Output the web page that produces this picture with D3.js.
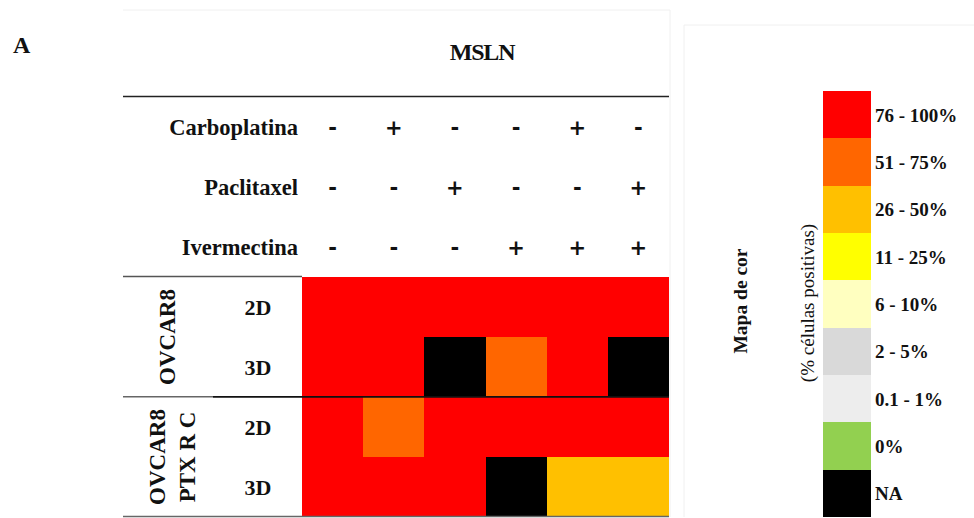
<!DOCTYPE html>
<html>
<head>
<meta charset="utf-8">
<script src="https://cdn.jsdelivr.net/npm/d3@7"></script>
<style>
  html, body { margin: 0; padding: 0; background: #fff; }
  svg { display: block; }
  text { font-family: "Liberation Serif", "Times New Roman", serif; font-weight: bold; fill: #111; }
</style>
</head>
<body>
<svg id="chart" width="974" height="518"></svg>
<script>
// Treatment combinations per column
const columns = ["c1", "c2", "c3", "c4", "c5", "c6"];
const treatments = ["Carboplatina", "Paclitaxel", "Ivermectina"];
const carboplatina = ["-", "+", "-", "-", "+", "-"];
const paclitaxel   = ["-", "-", "+", "-", "-", "+"];
const ivermectina  = ["-", "-", "-", "+", "+", "+"];

// Cell lines and culture formats
const cellLines = [["OVCAR8"], ["OVCAR8", "PTX R C"]];
const cultures = ["2D", "3D"];

// Colour map categories (% positive cells)
const legendLabels = ["76 - 100%", "51 - 75%", "26 - 50%", "11 - 25%", "6 - 10%", "2 - 5%", "0.1 - 1%", "0%", "NA"];
const legendColors = ["#ff0000", "#ff6600", "#ffc000", "#ffff00", "#ffffc0", "#d9d9d9", "#ededed", "#92d050", "#000000"];

// MSLN expression category per row (cell line × culture) and column
const ovcar8_2D    = ["76 - 100%", "76 - 100%", "76 - 100%", "76 - 100%", "76 - 100%", "76 - 100%"];
const ovcar8_3D    = ["76 - 100%", "76 - 100%", "NA", "51 - 75%", "76 - 100%", "NA"];
const ptxrc_2D     = ["76 - 100%", "51 - 75%", "76 - 100%", "76 - 100%", "76 - 100%", "76 - 100%"];
const ptxrc_3D     = ["76 - 100%", "76 - 100%", "76 - 100%", "NA", "26 - 50%", "26 - 50%"];

const rowKeys = ["OVCAR8|2D", "OVCAR8|3D", "PTX|2D", "PTX|3D"];
const rowValues = [ovcar8_2D, ovcar8_3D, ptxrc_2D, ptxrc_3D];
const treatmentRows = [carboplatina, paclitaxel, ivermectina];

const svg = d3.select("#chart");

// Scales
const x = d3.scaleBand().domain(columns).range([302, 669]);
const yRows = d3.scaleBand().domain(rowKeys).range([277, 517]);
const yTreat = d3.scaleBand().domain(treatments).range([97, 277]);
const color = d3.scaleOrdinal().domain(legendLabels).range(legendColors);
const yLegend = d3.scaleBand().domain(legendLabels).range([91, 517]);

// Faint frame around the header
const frame = svg.append("g").attr("stroke", "#f0f0f0").attr("fill", "none");
frame.append("line").attr("x1", 123).attr("x2", 670).attr("y1", 10).attr("y2", 10);
frame.append("line").attr("x1", 670).attr("x2", 670).attr("y1", 10).attr("y2", 517);
frame.append("line").attr("x1", 684).attr("x2", 974).attr("y1", 25).attr("y2", 25);
frame.append("line").attr("x1", 684).attr("x2", 684).attr("y1", 25).attr("y2", 517);

// Panel letter and title
svg.append("text").attr("x", 13).attr("y", 53).style("font-size", "24px").text("A");
svg.append("text").attr("x", 482).attr("y", 60).attr("text-anchor", "middle")
  .style("font-size", "24px").style("letter-spacing", "-1.2px").text("MSLN");

// Heatmap cells
const cells = [];
rowValues.forEach((vals, r) => vals.forEach((v, c) => cells.push({ row: rowKeys[r], col: columns[c], v })));
svg.append("g").attr("shape-rendering", "crispEdges")
  .selectAll("rect").data(cells).join("rect")
  .attr("x", d => Math.round(x(d.col)))
  .attr("y", d => Math.round(yRows(d.row)))
  .attr("width", d => Math.round(x(d.col) + x.bandwidth()) - Math.round(x(d.col)))
  .attr("height", d => Math.round(yRows(d.row) + yRows.bandwidth()) - Math.round(yRows(d.row)))
  .attr("fill", d => color(d.v));

// Treatment labels and +/- signs
const treatG = svg.append("g");
treatG.selectAll("text.tl").data(treatments).join("text")
  .attr("class", "tl")
  .attr("x", 298)
  .attr("y", d => yTreat(d) + yTreat.bandwidth() / 2 + 8)
  .attr("text-anchor", "end")
  .style("font-size", "22.5px")
  .text(d => d);

treatmentRows.forEach((signs, i) => {
  treatG.selectAll(null).data(signs).join("text")
    .attr("x", (d, c) => x(columns[c]) + x.bandwidth() / 2)
    .attr("y", yTreat(treatments[i]) + yTreat.bandwidth() / 2 + 8)
    .attr("text-anchor", "middle")
    .style("font-family", "'DejaVu Sans', 'Liberation Sans', Arial, sans-serif")
    .style("font-size", "21px")
    .text(d => d);
});

// Culture labels (2D / 3D)
svg.append("g").selectAll("text").data(rowKeys).join("text")
  .attr("x", 258)
  .attr("y", d => yRows(d) + yRows.bandwidth() / 2 + 8)
  .attr("text-anchor", "middle")
  .style("font-size", "22px")
  .text(d => d.split("|")[1]);

// Cell line labels, rotated
const groupCenters = [yRows("OVCAR8|3D"), yRows("PTX|3D")];
cellLines.forEach((lines, g) => {
  const cx = lines.length === 1 ? 167 : 172;
  const t = svg.append("text")
    .attr("transform", `translate(${cx},${groupCenters[g]}) rotate(-90)`)
    .attr("text-anchor", "middle")
    .style("font-size", "23px");
  lines.forEach((ln, i) => {
    t.append("tspan")
      .attr("x", 0)
      .attr("y", (i - (lines.length - 1) / 2) * 30 + 8)
      .text(ln);
  });
});

// Table rules
const rules = svg.append("g");
rules.append("line").attr("x1", 123).attr("x2", 669).attr("y1", 96.5).attr("y2", 96.5)
  .attr("stroke", "#222").attr("stroke-width", 1.6);
rules.append("line").attr("x1", 123).attr("x2", 302).attr("y1", 276.5).attr("y2", 276.5)
  .attr("stroke", "#555").attr("stroke-width", 1.6);
rules.append("line").attr("x1", 123).attr("x2", 213).attr("y1", 396.8).attr("y2", 396.8)
  .attr("stroke", "#666").attr("stroke-width", 1.6);
rules.append("line").attr("x1", 213).attr("x2", 669).attr("y1", 396.8).attr("y2", 396.8)
  .attr("stroke", "#111").attr("stroke-width", 1.8);
rules.append("line").attr("x1", 123).attr("x2", 669).attr("y1", 516.5).attr("y2", 516.5)
  .attr("stroke", "#666").attr("stroke-width", 1.6);

// Colour map legend
const leg = svg.append("g");
leg.append("g").attr("shape-rendering", "crispEdges")
  .selectAll("rect").data(legendLabels).join("rect")
  .attr("x", 823)
  .attr("y", d => Math.round(yLegend(d)))
  .attr("width", 48)
  .attr("height", d => Math.round(yLegend(d) + yLegend.bandwidth()) - Math.round(yLegend(d)))
  .attr("fill", d => color(d));
leg.selectAll("text").data(legendLabels).join("text")
  .attr("x", 875)
  .attr("y", d => yLegend(d) + yLegend.bandwidth() / 2 + 7)
  .style("font-size", "19px")
  .text(d => d);

svg.append("text")
  .attr("transform", "translate(747,301) rotate(-90)")
  .attr("text-anchor", "middle")
  .style("font-size", "19.5px")
  .text("Mapa de cor");
svg.append("text")
  .attr("transform", "translate(814,303) rotate(-90)")
  .attr("text-anchor", "middle")
  .style("font-size", "19px")
  .style("font-weight", "normal")
  .text("(% células positivas)");
</script>
</body>
</html>
